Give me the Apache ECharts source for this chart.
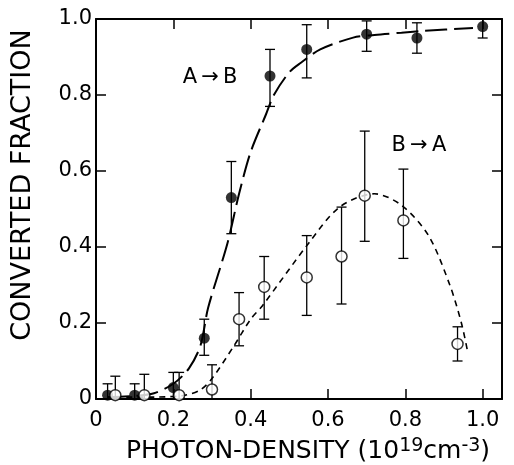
<!DOCTYPE html>
<html>
<head>
<meta charset="utf-8">
<script src="https://cdn.jsdelivr.net/npm/echarts@6/dist/echarts.min.js"></script>
<style>
  html, body { margin: 0; padding: 0; background: #fff; }
  #chart { width: 514px; height: 465px; }
</style>
</head>
<body>
<div id="chart"></div>
<script>
// measured points, A -> B (filled circles)
const abX = [0.03, 0.10, 0.20, 0.28, 0.35, 0.45, 0.545, 0.70, 0.83, 1.00];
const abY = [0.01, 0.01, 0.03, 0.16, 0.53, 0.85, 0.92, 0.96, 0.95, 0.98];
const abLow = [0, 0, 0, 0.115, 0.435, 0.77, 0.845, 0.915, 0.91, 0.95];
const abHigh = [0.04, 0.04, 0.07, 0.21, 0.625, 0.92, 0.985, 0.995, 0.99, 1.0];

// measured points, B -> A (open circles)
const baX = [0.05, 0.125, 0.215, 0.30, 0.37, 0.435, 0.545, 0.635, 0.695, 0.795, 0.935];
const baY = [0.01, 0.01, 0.01, 0.025, 0.21, 0.295, 0.32, 0.375, 0.535, 0.47, 0.145];
const baLow = [0, 0, 0, 0, 0.14, 0.21, 0.22, 0.25, 0.415, 0.37, 0.10];
const baHigh = [0.06, 0.065, 0.07, 0.09, 0.28, 0.375, 0.43, 0.505, 0.705, 0.605, 0.19];

// hand-drawn guide curves
const abFitX = [0.03, 0.10, 0.15, 0.20, 0.24, 0.27, 0.29, 0.34, 0.37, 0.40, 0.44, 0.46, 0.50, 0.53, 0.58, 0.665, 0.72, 0.79, 0.85, 0.975];
const abFitY = [0.005, 0.008, 0.015, 0.04, 0.08, 0.14, 0.24, 0.41, 0.54, 0.65, 0.75, 0.80, 0.86, 0.885, 0.92, 0.951, 0.958, 0.964, 0.969, 0.976];
const baFitX = [0.05, 0.15, 0.23, 0.27, 0.30, 0.355, 0.40, 0.43, 0.55, 0.63, 0.72, 0.79, 0.86, 0.915, 0.945, 0.962];
const baFitY = [0.005, 0.005, 0.01, 0.024, 0.054, 0.137, 0.21, 0.245, 0.41, 0.505, 0.54, 0.51, 0.43, 0.30, 0.20, 0.12];

const xTicks = [0, 0.2, 0.4, 0.6, 0.8, 1.0];

const font = "'DejaVu Sans', sans-serif";
const zip = (xs, ys) => xs.map((x, i) => [x, ys[i]]);

const chart = echarts.init(document.getElementById('chart'));

const errorBar = (params, api) => {
  const x = api.value(0);
  const lo = api.coord([x, api.value(1)]);
  const hi = api.coord([x, api.value(2)]);
  const w = 5;
  const style = { stroke: '#000', lineWidth: 1.3 };
  return {
    type: 'group',
    children: [
      { type: 'line', shape: { x1: lo[0], y1: lo[1], x2: hi[0], y2: hi[1] }, style },
      { type: 'line', shape: { x1: hi[0] - w, y1: hi[1], x2: hi[0] + w, y2: hi[1] }, style },
      { type: 'line', shape: { x1: lo[0] - w, y1: lo[1], x2: lo[0] + w, y2: lo[1] }, style },
    ],
  };
};

const axisBase = {
  type: 'value',
  min: 0,
  interval: 0.2,
  axisLine: { show: true, onZero: false, lineStyle: { color: '#000', width: 2 } },
  axisTick: { show: true, inside: true, length: 10, lineStyle: { color: '#000', width: 1.5 } },
  splitLine: { show: false },
};

chart.setOption({
  animation: false,
  backgroundColor: '#fff',
  grid: { left: 96, right: 12, top: 19, bottom: 66 },
  xAxis: [
    {
      ...axisBase,
      max: 1.05,
      position: 'bottom',
      axisLabel: {
        margin: 11,
        color: '#000',
        fontSize: 21,
        fontFamily: font,
        showMaxLabel: false,
        formatter: (v) => (xTicks.includes(+v.toFixed(2)) ? (v === 0 ? '0' : v.toFixed(1)) : ''),
      },
    },
    {
      ...axisBase,
      max: 1.05,
      position: 'top',
      axisLabel: { show: false },
    },
  ],
  yAxis: [
    {
      ...axisBase,
      max: 1.0,
      position: 'left',
      axisLabel: {
        margin: 4,
        color: '#000',
        fontSize: 21,
        fontFamily: font,
        formatter: (v) => (v === 0 ? '0' : v.toFixed(1)),
      },
    },
    {
      ...axisBase,
      max: 1.0,
      position: 'right',
      axisLabel: { show: false },
    },
  ],
  series: [
    {
      type: 'line',
      data: zip(abFitX, abFitY),
      smooth: 0.3,
      showSymbol: false,
      lineStyle: { color: '#000', width: 2, type: [22, 7] },
      z: 2,
    },
    {
      type: 'line',
      data: zip(baFitX, baFitY),
      smooth: 0.3,
      showSymbol: false,
      lineStyle: { color: '#000', width: 1.6, type: [6, 5] },
      z: 2,
    },
    {
      type: 'custom',
      renderItem: errorBar,
      data: abX.map((x, i) => [x, abLow[i], abHigh[i]]),
      clip: true,
      z: 3,
    },
    {
      type: 'custom',
      renderItem: errorBar,
      data: baX.map((x, i) => [x, baLow[i], baHigh[i]]),
      clip: true,
      z: 3,
    },
    {
      type: 'scatter',
      data: zip(abX, abY),
      symbol: 'circle',
      symbolSize: 11,
      itemStyle: { color: '#000' },
      z: 4,
    },
    {
      type: 'scatter',
      data: zip(baX, baY),
      symbol: 'circle',
      symbolSize: 11,
      itemStyle: { color: '#fff', borderColor: '#000', borderWidth: 1.5 },
      z: 4,
    },
  ],
});

// labels: placed in data space, then converted to pixels
const abLabel = chart.convertToPixel({ gridIndex: 0 }, [0.295, 0.847]);
const baLabel = chart.convertToPixel({ gridIndex: 0 }, [0.835, 0.668]);

chart.setOption({
  graphic: [
    {
      type: 'text',
      x: abLabel[0],
      y: abLabel[1],
      style: { text: 'A\u2009→\u2009B', fill: '#000', font: `21px ${font}`, align: 'center', verticalAlign: 'middle' },
    },
    {
      type: 'text',
      x: baLabel[0],
      y: baLabel[1],
      style: { text: 'B\u2009→\u2009A', fill: '#000', font: `21px ${font}`, align: 'center', verticalAlign: 'middle' },
    },
    {
      type: 'text',
      x: 23,
      y: 185,
      rotation: Math.PI / 2,
      style: { text: 'CONVERTED FRACTION', fill: '#000', font: `27px ${font}`, align: 'center', verticalAlign: 'middle' },
    },
    {
      type: 'text',
      x: 308,
      y: 451,
      style: {
        text: 'PHOTON-DENSITY (10{sup|19}cm{sup|-3})',
        fill: '#000',
        font: `25px ${font}`,
        align: 'center',
        verticalAlign: 'middle',
        rich: {
          sup: { fontSize: 19, fontFamily: font, fill: '#000', verticalAlign: 'top', padding: [0, 0, 10, 0] },
        },
      },
    },
  ],
});
</script>
</body>
</html>
